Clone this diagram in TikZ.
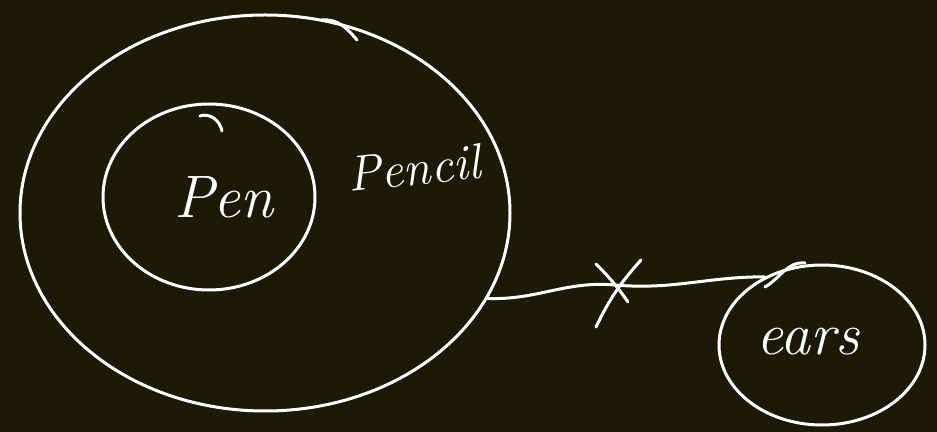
\documentclass[tikz,border=0pt]{standalone}
\usetikzlibrary{shapes.geometric}
\definecolor{board}{RGB}{26,26,5}
\tikzset{
  chalk/.style={draw=white, line width=1.5pt, line cap=round},
  setring/.style={chalk, ellipse, inner sep=0pt},
  hand/.style={text=white, font=\fontsize{30}{34}\selectfont\itshape}
}
\begin{document}
\begin{tikzpicture}[x=0.5pt,y=-0.5pt]
\fill[board] (0,0) rectangle (937,432);
\useasboundingbox (0,0) rectangle (937,432);
% sets
\node[setring, minimum width=245pt, minimum height=198pt] (pencil) at (265,213) {};
\node[setring, minimum width=106pt, minimum height=93pt] (pen) at (209,197) {};
\node[setring, minimum width=103pt, minimum height=80pt] (ears) at (822,345) {};
% pen strokes where the loops close
\draw[chalk] (322,20) to[out=5,in=130] (357,40);
\draw[chalk] (200,116) to[out=20,in=100] (222,131);
\draw[chalk] (765,287) to[out=30,in=175] (805,263);
% labels
\node[hand] (penlabel) at (224,197) {Pen};
\node[hand, font=\fontsize{25}{30}\selectfont\itshape, rotate=6] (pencillabel) at (414,168) {Pencil};
\node[hand] (earslabel) at (808,342) {ears};
% no relation
\draw[chalk] (pencil.-21) to[out=-2,in=175] (615,285) to[out=-5,in=180] (ears.130);
\coordinate (xa) at (596,327);
\coordinate (xb) at (641,260);
\coordinate (xc) at (596,264);
\coordinate (xd) at (628,302);
\draw[chalk] (xa) to[bend left=8] (xb);
\draw[chalk] (xc) to[bend left=5] (xd);
\end{tikzpicture}
\end{document}
